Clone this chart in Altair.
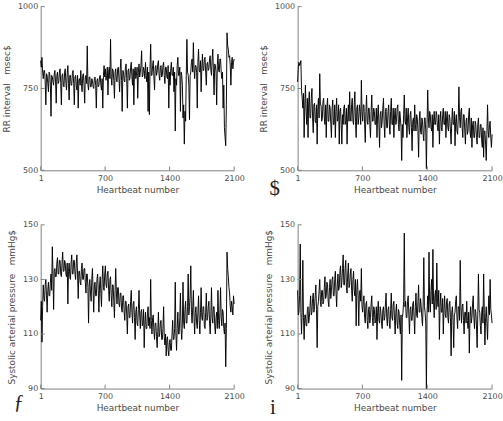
import altair as alt
import pandas as pd
import numpy as np

# ---------------- data ----------------
beat_ticks = [1, 700, 1400, 2100]
rr_ticks = [500, 750, 1000]
sap_ticks = [90, 110, 130, 150]

rr_top_left = [
    835, 815, 845, 800, 780, 805, 805, 770, 700, 795, 790, 765, 740, 800, 795, 760, 665, 790, 785, 770,
    760, 795, 805, 770, 705, 790, 800, 765, 770, 800, 810, 765, 700, 790, 795, 760, 755, 800, 810, 765,
    745, 795, 820, 765, 715, 790, 790, 760, 760, 795, 805, 765, 700, 785, 790, 760, 745, 790, 690, 775,
    780, 760, 805, 765, 740, 790, 795, 760, 705, 785, 790, 765, 880, 760, 745, 785, 785, 755, 755, 780,
    775, 755, 750, 780, 785, 760, 690, 775, 780, 755, 760, 785, 790, 760, 745, 780, 690, 790, 820, 785,
    810, 775, 790, 815, 730, 800, 815, 780, 900, 785, 760, 810, 805, 775, 720, 800, 810, 775, 770, 810,
    815, 780, 740, 810, 840, 775, 680, 805, 800, 775, 770, 815, 825, 780, 690, 805, 810, 775, 780, 815,
    830, 785, 760, 810, 700, 800, 815, 780, 790, 815, 720, 800, 825, 785, 800, 820, 865, 785, 790, 815,
    805, 780, 830, 790, 770, 815, 680, 800, 670, 810, 885, 790, 790, 820, 835, 785, 745, 815, 820, 790,
    800, 825, 835, 790, 775, 815, 820, 785, 790, 820, 830, 790, 765, 815, 815, 785, 780, 820, 690, 800,
    760, 810, 830, 790, 790, 815, 740, 800, 620, 780, 760, 820, 845, 790, 790, 815, 680, 800, 790, 760,
    660, 700, 580, 680, 650, 790, 900, 800, 790, 760, 655, 790, 800, 830, 840, 800, 890, 810, 780, 820,
    820, 800, 690, 830, 870, 805, 800, 835, 740, 810, 855, 805, 805, 840, 845, 800, 760, 825, 830, 805,
    810, 840, 850, 805, 790, 840, 870, 800, 730, 825, 820, 800, 700, 820, 855, 805, 800, 840, 840, 800,
    780, 800, 690, 760, 630, 600, 575, 700, 920, 880, 870, 845, 850, 820, 760, 830, 845, 810, 830, 840,
]

rr_top_right = [
    770, 815, 830, 820, 825, 835, 745, 720, 690, 735, 600, 700, 760, 680, 640, 720, 600, 710, 740, 660,
    660, 720, 750, 660, 615, 700, 705, 650, 645, 700, 580, 690, 720, 660, 795, 700, 700, 650, 660, 710,
    720, 660, 640, 700, 600, 690, 720, 650, 650, 700, 690, 640, 600, 690, 715, 640, 640, 700, 600, 680,
    720, 650, 660, 700, 580, 680, 690, 640, 580, 670, 640, 690, 700, 640, 650, 690, 580, 660, 700, 650,
    740, 660, 650, 700, 720, 650, 640, 700, 740, 650, 600, 690, 700, 640, 660, 700, 680, 640, 775, 680,
    650, 700, 700, 640, 585, 680, 730, 650, 640, 690, 690, 640, 600, 680, 730, 650, 650, 690, 680, 640,
    640, 690, 600, 670, 700, 640, 570, 670, 680, 630, 650, 690, 720, 640, 600, 680, 690, 630, 630, 680,
    700, 640, 610, 680, 720, 640, 640, 690, 600, 670, 690, 640, 650, 690, 700, 640, 620, 680, 660, 630,
    530, 640, 600, 670, 730, 650, 640, 690, 600, 660, 690, 630, 610, 670, 680, 630, 560, 650, 660, 620,
    700, 640, 620, 670, 660, 620, 540, 650, 680, 620, 610, 660, 650, 610, 590, 660, 660, 620, 505, 640,
    745, 660, 630, 680, 670, 630, 620, 670, 570, 650, 680, 640, 640, 680, 670, 630, 620, 670, 580, 650,
    680, 630, 620, 670, 690, 640, 640, 680, 600, 660, 680, 630, 620, 670, 660, 620, 580, 650, 690, 640,
    640, 680, 575, 650, 670, 620, 610, 660, 755, 660, 630, 680, 690, 630, 600, 670, 670, 620, 580, 650,
    660, 610, 620, 670, 690, 620, 600, 660, 570, 640, 650, 600, 600, 650, 640, 600, 580, 640, 660, 600,
    600, 640, 640, 590, 570, 630, 540, 620, 620, 580, 530, 610, 700, 620, 600, 640, 650, 600, 570, 610,
]

sap_bottom_left = [
    115, 122, 107, 120, 128, 123, 122, 128, 130, 124, 118, 126, 129, 124, 124, 129, 132, 126, 142, 132,
    119, 133, 134, 131, 131, 136, 138, 132, 132, 137, 137, 132, 131, 136, 140, 133, 133, 137, 136, 132,
    131, 136, 121, 133, 136, 131, 130, 136, 139, 132, 132, 137, 137, 132, 130, 136, 139, 132, 123, 133,
    133, 129, 128, 134, 136, 130, 130, 134, 134, 129, 125, 132, 132, 127, 114, 128, 130, 125, 122, 130,
    134, 126, 118, 128, 129, 124, 124, 130, 132, 126, 118, 128, 131, 125, 120, 130, 135, 127, 126, 132,
    135, 128, 127, 132, 133, 126, 122, 130, 131, 124, 120, 128, 128, 122, 116, 126, 134, 125, 121, 127,
    127, 121, 120, 125, 125, 119, 118, 124, 124, 118, 115, 122, 122, 117, 110, 120, 121, 116, 116, 122,
    126, 118, 114, 121, 122, 116, 108, 118, 120, 114, 113, 119, 126, 117, 112, 118, 119, 113, 114, 119,
    105, 114, 118, 112, 112, 117, 120, 113, 116, 112, 130, 115, 110, 116, 117, 111, 108, 114, 114, 109,
    105, 111, 118, 109, 110, 114, 115, 108, 108, 112, 120, 109, 106, 110, 102, 108, 109, 104, 102, 107,
    108, 104, 104, 110, 115, 108, 108, 112, 129, 110, 104, 112, 118, 110, 110, 116, 125, 112, 108, 114,
    129, 114, 112, 119, 122, 114, 114, 120, 132, 117, 120, 124, 135, 118, 114, 120, 126, 116, 110, 118,
    120, 114, 112, 118, 124, 115, 110, 118, 127, 116, 115, 120, 120, 113, 112, 118, 125, 115, 116, 120,
    122, 114, 110, 117, 127, 116, 114, 120, 120, 113, 110, 116, 118, 112, 126, 115, 112, 118, 127, 116,
    113, 119, 118, 112, 110, 114, 98, 112, 140, 134, 131, 127, 125, 120, 118, 122, 120, 117, 124, 121,
]

sap_bottom_right = [
    126, 117, 118, 124, 143, 118, 110, 118, 137, 116, 108, 117, 117, 113, 113, 119, 120, 114, 116, 120,
    124, 117, 118, 123, 125, 118, 120, 124, 128, 119, 105, 120, 122, 126, 130, 122, 120, 126, 126, 121,
    122, 127, 131, 123, 124, 129, 128, 122, 120, 127, 130, 123, 126, 130, 131, 124, 124, 130, 133, 125,
    120, 128, 132, 126, 127, 133, 135, 127, 129, 134, 139, 128, 128, 134, 137, 127, 125, 132, 136, 127,
    128, 132, 134, 126, 122, 130, 133, 126, 124, 130, 113, 126, 130, 124, 113, 125, 126, 122, 134, 120,
    118, 122, 124, 116, 114, 121, 122, 115, 112, 119, 120, 114, 116, 121, 124, 116, 113, 120, 119, 114,
    115, 120, 108, 118, 122, 115, 114, 120, 118, 114, 112, 119, 120, 115, 116, 121, 125, 116, 113, 119,
    120, 114, 112, 119, 125, 116, 115, 121, 122, 115, 110, 118, 121, 114, 112, 119, 118, 113, 110, 117,
    93, 116, 118, 122, 147, 120, 122, 116, 116, 122, 124, 117, 110, 119, 120, 115, 115, 121, 122, 116,
    110, 120, 125, 117, 116, 122, 128, 118, 118, 123, 120, 116, 113, 121, 138, 120, 118, 114, 90, 118,
    124, 118, 140, 122, 118, 126, 130, 121, 141, 122, 116, 124, 126, 119, 136, 122, 120, 126, 108, 120,
    125, 118, 118, 123, 110, 119, 124, 117, 116, 122, 123, 116, 114, 121, 122, 116, 102, 118, 120, 115,
    105, 117, 118, 122, 124, 116, 112, 120, 120, 115, 137, 120, 114, 120, 121, 115, 110, 118, 118, 114,
    122, 115, 112, 118, 103, 116, 120, 114, 116, 121, 124, 116, 112, 119, 118, 113, 105, 117, 132, 119,
    118, 113, 110, 118, 120, 114, 132, 118, 106, 116, 120, 114, 108, 117, 124, 117, 130, 119, 117, 114,
]

x_title = "Heartbeat number"
rr_title = "RR interval\u00a0\u00a0\u00a0msec$"
sap_title = "Systolic arterial pressure\u00a0\u00a0\u00a0mmHg$"

# ---------------- style ----------------
H = 165
FONT = "DejaVu Sans"
TXT = "#4a4a4a"
AX = "#808080"
TICK = 4

beats = np.linspace(1, 2100, len(rr_top_left))


def panel(values, ytitle, ydomain, yticks, width, letter=None, lx=0, ly=0):
    df = pd.DataFrame({"beat": beats, "v": values})
    xs = alt.Scale(domain=[1, 2100], nice=False, zero=False)
    ys = alt.Scale(domain=ydomain, nice=False, zero=False)
    xaxis = alt.Axis(values=beat_ticks, title=x_title, ticks=False, grid=False, format="d",
                     labelFont=FONT, labelFontSize=8, labelColor=TXT, labelPadding=4,
                     titleFont=FONT, titleFontSize=9, titleFontWeight="normal",
                     titleColor=TXT, titlePadding=3, domainColor=AX, domainWidth=1,
                     labelFlush=False, labelOverlap=False)
    yaxis = alt.Axis(values=yticks, title=ytitle, ticks=False, grid=False, format="d",
                     labelFont=FONT, labelFontSize=8, labelColor=TXT, labelPadding=3,
                     titleFont=FONT, titleFontSize=9, titleFontWeight="normal",
                     titleColor=TXT, titlePadding=6, domainColor=AX, domainWidth=1,
                     labelFlush=False, labelOverlap=False)
    line = alt.Chart(df).mark_line(color="black", strokeWidth=0.95).encode(
        x=alt.X("beat:Q", scale=xs, axis=xaxis),
        y=alt.Y("v:Q", scale=ys, axis=yaxis),
    )
    xt = alt.Chart(pd.DataFrame({"beat": beat_ticks})).mark_rule(
        color=AX, strokeWidth=1).encode(
        x=alt.X("beat:Q", scale=xs, axis=xaxis),
        y=alt.value(H - TICK), y2=alt.value(H))
    yt = alt.Chart(pd.DataFrame({"v": yticks})).mark_rule(
        color=AX, strokeWidth=1).encode(
        y=alt.Y("v:Q", scale=ys, axis=yaxis),
        x=alt.value(0), x2=alt.value(TICK))
    layers = [line, xt, yt]
    if letter:
        lt = alt.Chart(pd.DataFrame({"t": [letter]})).mark_text(
            font="Liberation Serif", fontSize=21, color="#222", align="center",
            baseline="alphabetic").encode(
            text="t:N", x=alt.value(lx), y=alt.value(ly))
        layers.append(lt)
    return alt.layer(*layers).properties(width=width, height=H)


p1 = panel(rr_top_left, rr_title, [500, 1000], rr_ticks, 195)
p2 = panel(rr_top_right, rr_title, [500, 1000], rr_ticks, 196, "$", -23, 190)
p3 = panel(sap_bottom_left, sap_title, [90, 150], sap_ticks, 195, "\u0192", -22, 186)
p4 = panel(sap_bottom_right, sap_title, [90, 150], sap_ticks, 196, "i", -25, 191)

chart = alt.concat(p1, p2, p3, p4, columns=2,
                   spacing={"row": 55, "column": 64}, bounds="flush").properties(
    padding={"left": 2, "top": 1, "right": 0, "bottom": 0},
    background="white",
).configure_view(stroke=None)

chart.save("out.html", embed_options={"renderer": "svg", "actions": False})
